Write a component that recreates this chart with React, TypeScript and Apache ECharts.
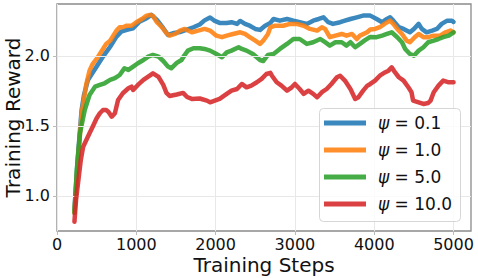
import React, { useEffect, useRef } from "react";
import * as echarts from "echarts";

const seriesNames = ["ψ = 0.1", "ψ = 1.0", "ψ = 5.0", "ψ = 10.0"];
const seriesColors = ["#1f77b4", "#ff7f0e", "#2ca02c", "#d62728"];

const xTicks = [0, 1000, 2000, 3000, 4000, 5000];
const yTicks = [1.0, 1.5, 2.0];

const rewardPsi01: [number, number][] = [
  [220, 0.9], [260, 1.257], [310, 1.614], [340, 1.721], [390, 1.829], [500, 1.924], [580, 1.995],
  [670, 2.066], [750, 2.138], [810, 2.174], [880, 2.186], [960, 2.198], [1040, 2.245], [1130, 2.269],
  [1190, 2.293], [1260, 2.257], [1340, 2.198], [1400, 2.15], [1460, 2.162], [1550, 2.171],
  [1630, 2.186], [1720, 2.205], [1800, 2.225], [1860, 2.254], [1930, 2.275], [1990, 2.25],
  [2050, 2.236], [2140, 2.236], [2200, 2.241], [2270, 2.229], [2310, 2.25], [2370, 2.229],
  [2430, 2.216], [2500, 2.193], [2560, 2.186], [2620, 2.214], [2690, 2.236], [2730, 2.264],
  [2810, 2.252], [2900, 2.264], [2980, 2.252], [3060, 2.241], [3150, 2.229], [3230, 2.252],
  [3300, 2.264], [3360, 2.276], [3420, 2.241], [3480, 2.229], [3570, 2.241], [3630, 2.252],
  [3700, 2.264], [3780, 2.276], [3860, 2.288], [3950, 2.288], [4030, 2.264], [4100, 2.241],
  [4160, 2.264], [4200, 2.276], [4240, 2.252], [4310, 2.205], [4370, 2.193], [4450, 2.169],
  [4500, 2.193], [4560, 2.229], [4600, 2.193], [4660, 2.169], [4730, 2.181], [4790, 2.193],
  [4850, 2.229], [4920, 2.252], [4980, 2.252], [5000, 2.243],
];

const rewardPsi10: [number, number][] = [
  [220, 0.88], [260, 1.22], [310, 1.586], [370, 1.8], [410, 1.895], [450, 1.943], [500, 1.979],
  [540, 2.014], [580, 2.05], [620, 2.086], [670, 2.109], [710, 2.145], [750, 2.181], [790, 2.205],
  [830, 2.205], [880, 2.216], [940, 2.216], [1000, 2.241], [1070, 2.264], [1130, 2.288],
  [1170, 2.293], [1210, 2.286], [1260, 2.241], [1320, 2.207], [1380, 2.162], [1420, 2.145],
  [1490, 2.157], [1550, 2.181], [1610, 2.193], [1700, 2.169], [1780, 2.181], [1860, 2.193],
  [1930, 2.181], [2010, 2.145], [2080, 2.134], [2140, 2.145], [2220, 2.157], [2310, 2.169],
  [2370, 2.157], [2430, 2.134], [2500, 2.109], [2560, 2.086], [2600, 2.109], [2660, 2.157],
  [2690, 2.205], [2750, 2.216], [2850, 2.216], [2940, 2.229], [3020, 2.229], [3110, 2.216],
  [3190, 2.193], [3280, 2.181], [3340, 2.205], [3380, 2.193], [3440, 2.134], [3510, 2.145],
  [3590, 2.157], [3650, 2.145], [3720, 2.157], [3780, 2.121], [3820, 2.145], [3910, 2.169],
  [3950, 2.189], [4010, 2.193], [4070, 2.205], [4130, 2.229], [4200, 2.252], [4240, 2.229],
  [4290, 2.193], [4350, 2.157], [4410, 2.109], [4450, 2.098], [4510, 2.134], [4560, 2.157],
  [4620, 2.134], [4680, 2.134], [4750, 2.145], [4830, 2.145], [4900, 2.169], [4960, 2.181],
  [5000, 2.169],
];

const rewardPsi50: [number, number][] = [
  [220, 0.88], [250, 1.186], [290, 1.45], [350, 1.614], [410, 1.721], [480, 1.781], [540, 1.793],
  [600, 1.805], [670, 1.829], [730, 1.841], [790, 1.864], [850, 1.912], [900, 1.9], [960, 1.924],
  [1020, 1.948], [1090, 1.971], [1150, 1.995], [1210, 2.007], [1280, 1.995], [1340, 1.964],
  [1400, 1.924], [1440, 1.912], [1510, 1.95], [1570, 1.971], [1610, 2.007], [1650, 2.038],
  [1720, 2.055], [1800, 2.055], [1860, 2.05], [1930, 2.038], [2010, 2.014], [2080, 1.991],
  [2140, 2.026], [2200, 2.038], [2290, 2.062], [2330, 2.05], [2390, 2.038], [2470, 2.014],
  [2560, 1.971], [2600, 1.964], [2660, 2.007], [2730, 2.014], [2810, 2.05], [2900, 2.086],
  [2980, 2.121], [3060, 2.121], [3150, 2.086], [3230, 2.098], [3320, 2.121], [3380, 2.098],
  [3440, 2.074], [3510, 2.098], [3590, 2.098], [3650, 2.074], [3700, 2.098], [3760, 2.062],
  [3820, 2.086], [3880, 2.111], [3950, 2.136], [4030, 2.134], [4100, 2.145], [4160, 2.157],
  [4220, 2.169], [4290, 2.134], [4350, 2.098], [4390, 2.05], [4450, 2.014], [4500, 2.002],
  [4560, 2.038], [4620, 2.062], [4680, 2.098], [4750, 2.109], [4810, 2.121], [4870, 2.134],
  [4940, 2.145], [5000, 2.169],
];

const rewardPsi100: [number, number][] = [
  [220, 0.816], [240, 0.971], [270, 1.114], [300, 1.257], [330, 1.352], [370, 1.4], [410, 1.448],
  [450, 1.495], [500, 1.555], [540, 1.591], [580, 1.614], [620, 1.614], [650, 1.6], [690, 1.566],
  [730, 1.591], [770, 1.686], [830, 1.734], [900, 1.769], [940, 1.781], [960, 1.757],
  [1020, 1.793], [1090, 1.829], [1150, 1.852], [1210, 1.876], [1280, 1.85], [1340, 1.793],
  [1380, 1.736], [1420, 1.714], [1510, 1.725], [1590, 1.736], [1640, 1.707], [1700, 1.693],
  [1800, 1.696], [1890, 1.681], [1930, 1.669], [1990, 1.681], [2050, 1.693], [2140, 1.729],
  [2200, 1.752], [2270, 1.764], [2330, 1.8], [2390, 1.776], [2450, 1.788], [2520, 1.812],
  [2580, 1.836], [2640, 1.871], [2690, 1.879], [2710, 1.859], [2770, 1.812], [2830, 1.788],
  [2900, 1.752], [2960, 1.776], [3000, 1.8], [3060, 1.764], [3110, 1.729], [3170, 1.752],
  [3230, 1.729], [3280, 1.705], [3340, 1.741], [3400, 1.764], [3460, 1.8], [3530, 1.848],
  [3570, 1.859], [3630, 1.824], [3700, 1.764], [3760, 1.693], [3800, 1.705], [3860, 1.752],
  [3910, 1.786], [3950, 1.8], [4010, 1.824], [4070, 1.859], [4140, 1.884], [4180, 1.895],
  [4220, 1.919], [4260, 1.884], [4310, 1.848], [4370, 1.824], [4430, 1.776], [4470, 1.741],
  [4490, 1.681], [4560, 1.669], [4620, 1.657], [4680, 1.664], [4710, 1.681], [4750, 1.741],
  [4810, 1.788], [4870, 1.824], [4940, 1.812], [5000, 1.812],
];

const seriesData = [rewardPsi01, rewardPsi10, rewardPsi50, rewardPsi100];

const FONT = "DejaVu Sans";

export default function App() {
  const ref = useRef<HTMLDivElement>(null);

  useEffect(() => {
    document.body.style.margin = "0";
    if (!ref.current) return;
    const chart = echarts.init(ref.current, null, { renderer: "svg" });

    const series: any[] = seriesNames.map((name, i) => ({
      name,
      type: "line",
      data: seriesData[i],
      showSymbol: false,
      symbol: "none",
      color: seriesColors[i],
      lineStyle: { width: 4.5, color: seriesColors[i], opacity: 0.88, cap: "round", join: "round" },
      itemStyle: { color: seriesColors[i], opacity: 0.88 },
      z: 2 + i,
    }));

    series.push({
      name: "__grid",
      type: "line",
      data: [],
      silent: true,
      z: 1,
      markLine: {
        silent: true,
        symbol: ["none", "none"],
        label: { show: false },
        lineStyle: { color: "#e8e8e8", width: 1, type: "solid" },
        data: yTicks.map((v) => ({ yAxis: v })),
      },
    });

    chart.setOption({
      animation: false,
      textStyle: { fontFamily: FONT },
      grid: {
        left: 57,
        right: 7,
        top: 4,
        bottom: 47,
        show: true,
        borderColor: "#8a8a8a",
        borderWidth: 1.3,
        backgroundColor: "transparent",
        outerBoundsMode: "none",
        containLabel: false,
      },
      xAxis: {
        type: "value",
        min: 0,
        max: 5220,
        interval: 1000,
        name: "Training Steps",
        nameLocation: "middle",
        nameGap: 24,
        nameMoveOverlap: false,
        nameTextStyle: { fontSize: 20, color: "#111", fontFamily: FONT, lineHeight: 20 },
        axisLine: { show: false },
        axisTick: { show: true, length: 4, lineStyle: { color: "#bbbbbb" }, customValues: xTicks },
        axisLabel: {
          fontSize: 16,
          lineHeight: 16,
          color: "#111",
          margin: 5,
          fontFamily: FONT,
          customValues: xTicks,
          formatter: (v: number) => String(v),
        },
        splitLine: { show: true, lineStyle: { color: "#e8e8e8", width: 1 } },
      },
      yAxis: {
        type: "value",
        min: 0.75,
        max: 2.371,
        name: "Training Reward",
        nameLocation: "middle",
        nameGap: 34,
        nameMoveOverlap: false,
        nameTextStyle: { fontSize: 20, color: "#111", fontFamily: FONT },
        axisLine: { show: false },
        axisTick: { show: true, length: 4, lineStyle: { color: "#bbbbbb" }, customValues: yTicks },
        axisLabel: {
          fontSize: 16,
          color: "#111",
          margin: 7,
          fontFamily: FONT,
          customValues: yTicks,
          formatter: (v: number) => v.toFixed(1),
        },
        splitLine: { show: false },
      },
      legend: {
        data: seriesNames,
        left: 324,
        top: 113,
        orient: "vertical",
        padding: 0,
        itemWidth: 42,
        itemHeight: 5,
        itemGap: 7,
        icon: "rect",
        z: 60,
        textStyle: {
          fontFamily: FONT,
          fontSize: 17,
          color: "#111",
          lineHeight: 20,
          rich: {
            psi: { fontStyle: "italic", fontSize: 17, fontFamily: FONT, color: "#111", padding: [0, 0, 0, 7] },
            rest: { fontSize: 17, fontFamily: FONT, color: "#111" },
          },
        },
        formatter: (name: string) => {
          const rest = name.replace("ψ", "");
          return "{psi|ψ}{rest|" + rest + "}";
        },
      },
      graphic: [
        {
          type: "rect",
          z: 50,
          shape: { x: 319.5, y: 108.5, width: 141, height: 113, r: 4 },
          style: { fill: "rgba(255,255,255,0.8)", stroke: "#d6d6d6", lineWidth: 1 },
          silent: true,
        },
      ],
      series,
    });

    return () => chart.dispose();
  }, []);

  return <div ref={ref} style={{ width: 478, height: 278 }} />;
}
